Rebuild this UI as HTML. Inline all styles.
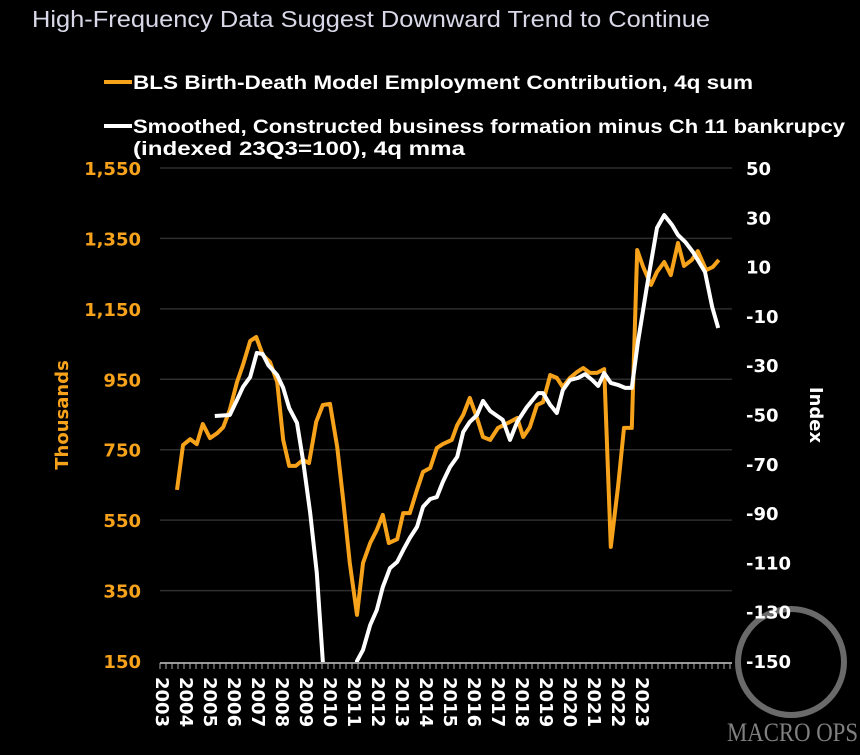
<!DOCTYPE html>
<html><head><meta charset="utf-8"><style>
html,body{margin:0;padding:0;background:#000;width:860px;height:755px;overflow:hidden}
svg{display:block}
.tk{font-family:"DejaVu Sans",sans-serif;font-weight:bold;font-size:18px}
.nar{font-family:"Liberation Sans",sans-serif}
</style></head><body>
<svg id="chart" width="860" height="755" viewBox="0 0 860 755">
<text class="nar" x="32" y="27" fill="#d8d8e8" font-size="23" textLength="678" lengthAdjust="spacingAndGlyphs">High-Frequency Data Suggest Downward Trend to Continue</text>
<g>
<rect x="104" y="80" width="28" height="4" fill="#f7a21b"/>
<text class="nar" x="133" y="89" fill="#fff" font-size="19" font-weight="bold" textLength="620" lengthAdjust="spacingAndGlyphs">BLS Birth-Death Model Employment Contribution, 4q sum</text>
<rect x="104" y="124" width="28" height="4" fill="#fff"/>
<text class="nar" x="133" y="133" fill="#fff" font-size="19" font-weight="bold" textLength="712" lengthAdjust="spacingAndGlyphs">Smoothed, Constructed business formation minus Ch 11 bankrupcy</text>
<text class="nar" x="133" y="155" fill="#fff" font-size="19" font-weight="bold" textLength="332" lengthAdjust="spacingAndGlyphs">(indexed 23Q3=100), 4q mma</text>
</g>
<g id="grid"></g><g id="xax"></g>
<defs><clipPath id="clip"><rect x="155" y="160" width="590" height="502"/></clipPath></defs>
<g id="series" clip-path="url(#clip)"></g>
<g>
<circle cx="791" cy="662" r="53" fill="none" stroke="#6a6a6a" stroke-width="6"/>
<text x="727" y="741" font-family="Liberation Serif,serif" font-size="26" fill="#808080" textLength="131" lengthAdjust="spacingAndGlyphs">MACRO OPS</text>
</g>
<g id="ylab"></g>
<text class="tk" transform="translate(68,415) rotate(-90)" text-anchor="middle" fill="#f7a21b" font-size="17">Thousands</text>
<text class="tk" transform="translate(810,415) rotate(90)" text-anchor="middle" fill="#fff" font-size="17">Index</text>
</svg>
<script>
const leftTicks=[1550,1350,1150,950,750,550,350,150];
const rightTicks=[50,30,10,-10,-30,-50,-70,-90,-110,-130,-150];
const years=[2003,2004,2005,2006,2007,2008,2009,2010,2011,2012,2013,2014,2015,2016,2017,2018,2019,2020,2021,2022,2023];
// quarters since 2003Q1
const blsQ=[2.5,3.5,4.7,5.8,6.8,8,9.2,10.2,11.3,12.5,13.5,14.7,15.7,16.8,18,19.2,20.2,21.2,22.3,23.5,24.5,25.7,26.8,28,29.2,30.2,31.3,32.5,33.5,34.7,35.8,36.8,37.8,39.2,40.2,41.3,42.5,43.5,44.7,45.8,46.8,48.3,49.2,50.2,51.3,52.5,53.5,54.7,56,58,59.2,60.2,61.3,62.5,63.5,64.7,65.8,66.8,68,69.2,70.2,71.3,72.5,73.7,74.8,76,77,78.3,79.2,80.2,81.5,82.5,83.7,84.8,86,87,88.3,89.3,90.7,91.8,92.8];
const blsV=[636,763,780,766,823,783,797,814,863,942,991,1059,1070,1019,999,942,778,704,704,721,712,829,877,880,758,607,428,281,428,485,522,565,485,496,570,570,636,687,698,755,766,778,820,849,897,840,786,778,812,829,840,786,814,877,885,962,954,928,954,971,982,968,968,979,474,644,812,812,1317,1269,1218,1255,1283,1246,1337,1272,1289,1314,1260,1269,1289];
const idxQ=[8.8,11.3,12.5,13.5,14.7,15.8,16.8,17.7,19.2,20.2,21.2,22.5,23.5,24.7,25.8,26.8,28,29.2,30.2,31.3,32.5,33.5,34.7,35.8,36.8,38,39.2,40.2,41.3,42.5,43.5,44.7,45.8,46.8,48,49.2,50.2,51.3,52.5,53.5,54.7,56.8,58,59.2,60.8,62.7,63.5,64.7,65.8,66.8,68,69.3,70.5,71.7,72.7,73.7,74.8,76,77.2,78.3,79.3,80.8,82.5,83.7,85,86,87.2,88.5,90.5,91.7,92.7];
const idxV=[-50.6,-50.2,-44.1,-38.8,-34.8,-25,-25.5,-29.9,-34,-39.2,-47.4,-53.4,-68.5,-90,-114.3,-150,-185,-200,-200,-180,-150,-145.5,-135.4,-129.3,-120,-112.3,-109.8,-105,-100.1,-95.6,-87.5,-84.3,-83.5,-77.4,-71.3,-67.2,-57.1,-53,-50.2,-44.5,-48.6,-52.2,-60.3,-53,-47,-41.3,-41.3,-46.1,-49.4,-40.1,-36,-35.2,-33.6,-36,-38.4,-33.2,-37.2,-38,-39.2,-39.2,-21,1.7,25.7,30.9,26.9,22.8,20,15.9,7.8,-6.4,-14.9];
const NS='http://www.w3.org/2000/svg';
const X0=160,X1=732,TOP=168,BOT=661;
const xq=q=>162+q*6;
const yL=v=>TOP+(1550-v)/(1550-150)*(BOT-TOP);
const yR=v=>TOP+(50-v)/(50+150)*(BOT-TOP);
function mk(tag,attrs,parent){const e=document.createElementNS(NS,tag);for(const k in attrs)e.setAttribute(k,attrs[k]);parent.appendChild(e);return e;}
const grid=document.getElementById('grid'),ylab=document.getElementById('ylab'),xax=document.getElementById('xax'),ser=document.getElementById('series');
leftTicks.forEach(v=>{
  if(v>150){const g=mk('line',{x1:X0,x2:X1,y1:yL(v),y2:yL(v),stroke:'#2e2e2e','stroke-width':1.5},grid);
  
  }
  const t=mk('text',{x:141,y:yL(v)+7,'text-anchor':'end',fill:'#f7a21b',class:'tk'},ylab);
  t.textContent=v.toLocaleString('en-US');
  
  
});
rightTicks.forEach(v=>{
  const t=mk('text',{x:746,y:yR(v)+7,fill:'#fff',class:'tk'},ylab);
  t.textContent=v;
  
  
});
const ax=mk('line',{x1:X0,x2:X1,y1:BOT+2,y2:BOT+2,stroke:'#ccc','stroke-width':1.5},xax);


for(let x=X0;x<=X1;x+=6){mk('line',{x1:x,x2:x,y1:BOT+2,y2:BOT+8,stroke:'#aaa','stroke-width':1},xax);}
years.forEach((y,i)=>{
  const t=mk('text',{transform:`translate(${162+i*24-6},677) rotate(90)`,fill:'#fff',class:'tk','font-size':17},xax);
  t.textContent=y;
  
  
});
function line(qs,vs,yf,col,name){
  const d=qs.map((q,i)=>(i?'L':'M')+xq(q).toFixed(1)+','+yf(vs[i]).toFixed(1)).join('');
  const p=mk('path',{d:d,fill:'none',stroke:col,'stroke-width':4,'stroke-linejoin':'round'},ser);
  
  
}
line(blsQ,blsV,yL,'#f7a21b','bls-birth-death-line');
line(idxQ,idxV,yR,'#ffffff','business-formation-index-line');
</script>
</body></html>
